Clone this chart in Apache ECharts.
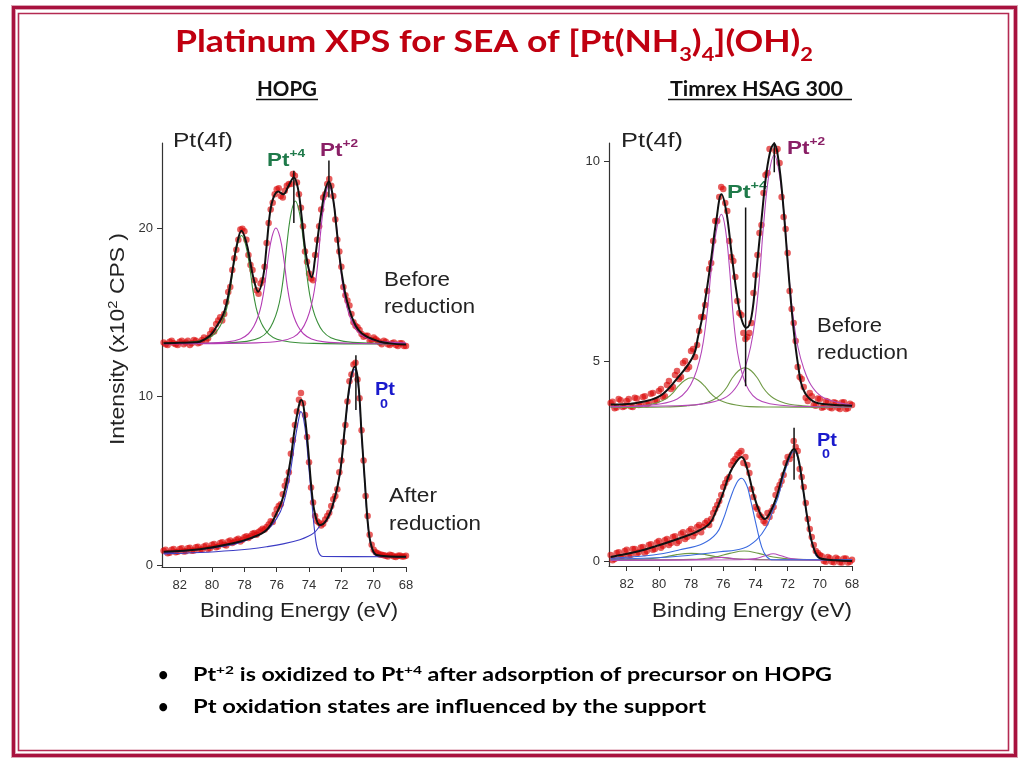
<!DOCTYPE html>
<html><head><meta charset="utf-8">
<script src="https://cdn.jsdelivr.net/npm/echarts@6/dist/echarts.min.js"></script>
<style>html,body{margin:0;padding:0;background:#fff}#c{width:1021px;height:759px}</style>
</head><body><div id="c"></div>
<script>
// ---------- DATA ----------
const E_GRID = [83,82.75,82.5,82.25,82,81.75,81.5,81.25,81,80.75,80.5,80.25,80,79.75,79.5,79.25,79,78.75,78.5,78.25,78,77.75,77.5,77.25,77,76.75,76.5,76.25,76,75.75,75.5,75.25,75,74.75,74.5,74.25,74,73.75,73.5,73.25,73,72.75,72.5,72.25,72,71.75,71.5,71.25,71,70.75,70.5,70.25,70,69.75,69.5,69.25,69,68.75,68.5,68.25,68];
const E_GRID2 = [82.875,82.625,82.375,82.125,81.875,81.625,81.375,81.125,80.875,80.625,80.375,80.125,79.875,79.625,79.375,79.125,78.875,78.625,78.375,78.125,77.875,77.625,77.375,77.125,76.875,76.625,76.375,76.125,75.875,75.625,75.375,75.125,74.875,74.625,74.375,74.125,73.875,73.625,73.375,73.125,72.875,72.625,72.375,72.125,71.875,71.625,71.375,71.125,70.875,70.625,70.375,70.125,69.875,69.625,69.375,69.125,68.875,68.625,68.375,68.125];
const X_TICKS = [68,70,72,74,76,78,80,82];
const HOPG_Y_TICKS = [0,10,20];
const HSAG_Y_TICKS = [0,5,10];

const HOPG_BEFORE_DATA = [13.2,13.05,13.3,13.1,13.25,13.1,13.3,13.15,13.3,13.2,13.5,13.45,13.95,14.3,14.7,14.9,16.2,17.5,18.7,19.9,19.8,18.4,17.5,16.3,16.7,17.7,20.3,21.5,22.3,21.9,22.2,22.6,23.2,22.7,21.2,18.6,17.3,16.9,19.3,21.1,22.0,22.9,21.9,19.3,17.7,16.0,15.4,14.4,14.1,13.7,13.6,13.3,13.5,13.3,13.1,13.25,13.05,13.2,13.0,13.15,13.0];
const HOPG_BEFORE_DATA2 = [13.1,13.25,13.15,13.05,13.3,13.2,13.05,13.35,13.15,13.35,13.3,13.7,13.85,14.5,14.5,15.6,16.5,18.2,19.3,19.95,19.3,17.8,16.9,16.1,16.9,19.1,21.1,22.0,22.35,21.8,22.5,22.6,23.1,22.0,20.1,18.0,17.0,18.4,20.1,21.8,22.6,22.5,20.5,18.6,16.5,15.7,14.9,14.2,13.95,13.55,13.6,13.35,13.4,13.2,13.3,13.1,13.15,13.05,13.15,13.0];
const HOPG_AFTER_DATA = [0.85,0.7,0.9,0.75,0.95,0.8,1.0,0.85,1.05,0.9,1.1,0.95,1.2,1.05,1.3,1.2,1.4,1.3,1.5,1.4,1.65,1.6,1.85,1.8,2.05,2.1,2.4,2.55,3.3,3.6,4.7,5.5,7.4,9.1,10.2,8.9,6.1,3.7,2.6,2.35,2.7,3.1,3.9,4.5,6.2,8.3,10.9,11.9,11.0,8.0,4.1,1.8,0.9,0.7,0.6,0.55,0.6,0.5,0.55,0.5,0.55];
const HOPG_AFTER_DATA2 = [0.9,0.72,0.95,0.78,1.0,0.82,1.02,0.86,1.08,0.92,1.15,1.0,1.25,1.1,1.35,1.15,1.45,1.38,1.55,1.5,1.7,1.7,1.9,1.95,2.15,2.25,2.6,3.0,3.5,4.2,5.0,6.6,8.3,9.8,9.6,7.6,4.6,2.9,2.5,2.45,2.9,3.5,4.1,5.5,7.3,9.7,11.3,12.0,9.9,6.2,2.9,1.2,0.75,0.62,0.58,0.5,0.58,0.48,0.56,0.5];
const HSAG_BEFORE_DATA = [3.95,3.82,4.05,3.85,4.0,3.86,4.08,3.9,4.1,3.92,4.18,4.0,4.25,4.1,4.4,4.3,4.65,4.55,4.95,4.8,5.25,5.1,5.75,6.1,6.75,7.45,8.5,9.1,9.3,8.75,7.6,7.1,6.2,5.7,5.6,5.95,7.15,8.2,9.2,9.7,10.5,10.25,9.95,8.6,7.7,6.3,5.5,4.6,4.35,4.0,4.12,3.88,4.05,3.85,3.98,3.82,3.95,3.8,3.97,3.82,3.9];
const HSAG_BEFORE_DATA2 = [3.98,3.84,4.02,3.87,4.05,3.85,4.06,3.92,4.12,3.95,4.2,4.02,4.3,4.12,4.5,4.35,4.75,4.6,5.0,4.85,5.3,5.4,6.1,6.4,7.3,8.0,8.5,9.35,8.95,8.0,7.5,6.5,6.15,5.55,5.7,6.7,7.65,8.4,9.65,10.3,10.6,10.3,9.1,8.3,6.75,5.95,4.85,4.55,4.08,4.2,3.9,4.06,3.83,4.0,3.84,3.97,3.83,3.96,3.8,3.93];
const HSAG_AFTER_DATA = [0.15,0.05,0.22,0.1,0.28,0.15,0.3,0.22,0.35,0.25,0.42,0.3,0.5,0.38,0.55,0.45,0.62,0.5,0.72,0.6,0.8,0.7,0.9,0.85,1.0,1.05,1.3,1.5,1.85,2.05,2.4,2.55,2.7,2.45,2.4,1.8,1.35,1.15,1.0,1.2,1.25,1.65,1.9,2.15,2.6,2.65,2.85,2.3,1.85,1.05,0.6,0.25,0.15,0.0,0.1,-0.02,0.08,-0.03,0.06,-0.04,0.03];
const HSAG_AFTER_DATA2 = [0.02,0.2,0.08,0.25,0.12,0.3,0.18,0.34,0.2,0.4,0.28,0.46,0.33,0.52,0.4,0.6,0.45,0.68,0.55,0.75,0.62,0.85,0.72,0.95,0.9,1.2,1.4,1.65,1.95,2.1,2.5,2.65,2.75,2.6,2.2,1.6,1.3,1.1,0.95,1.1,1.35,1.8,2.0,2.45,2.55,3.0,2.75,2.1,1.45,0.8,0.4,0.2,0.12,-0.02,0.07,-0.03,0.05,-0.04,0.06,-0.02];

const HOPG_BEFORE_FIT = [[83,13.15],[82,13.18],[81,13.22],[80.76,13.25],[80.14,13.6],[79.73,14.14],[79.32,14.84],[79.1,15.53],[78.9,16.52],[78.7,17.7],[78.49,18.89],[78.18,19.84],[77.87,19.09],[77.66,18.1],[77.46,17.11],[77.15,16.22],[76.84,17.11],[76.63,18.89],[76.42,20.87],[76.22,21.76],[75.91,22.16],[75.6,22.0],[75.29,22.45],[74.94,23.0],[74.67,22.26],[74.46,20.67],[74.26,18.89],[74.05,17.7],[73.84,17.07],[73.64,18.1],[73.43,19.68],[73.22,21.07],[73.02,22.16],[72.77,22.75],[72.5,21.66],[72.29,19.88],[72.09,18.1],[71.88,16.72],[71.67,15.73],[71.36,14.74],[70.95,13.95],[70.43,13.55],[69.6,13.25],[69,13.15],[68,13.08]];
const HOPG_PT4_A = [[83,13.15],[82.68,13.15],[81.18,13.23],[80.38,13.39],[79.88,13.68],[79.53,14.13],[79.28,14.65],[79.08,15.29],[78.88,16.33],[78.68,17.74],[78.43,19.03],[78.18,19.55],[77.93,19.03],[77.68,17.74],[77.48,16.33],[77.28,15.29],[77.08,14.65],[76.83,14.13],[76.48,13.68],[75.98,13.39],[75.18,13.23],[73.68,13.15],[68,13.11]];
const HOPG_PT2_A = [[83,13.13],[80.55,13.16],[79.05,13.24],[78.25,13.41],[77.75,13.72],[77.4,14.2],[77.15,14.76],[76.95,15.45],[76.75,16.55],[76.55,18.07],[76.3,19.45],[76.05,20.0],[75.8,19.45],[75.55,18.07],[75.35,16.55],[75.15,15.45],[74.95,14.76],[74.7,14.2],[74.35,13.72],[73.85,13.41],[73.05,13.24],[71.55,13.16],[68,13.12]];
const HOPG_PT4_B = [[83,13.14],[79.35,13.17],[77.85,13.27],[77.05,13.48],[76.55,13.87],[76.2,14.46],[75.95,15.14],[75.75,15.99],[75.55,17.35],[75.35,19.22],[75.1,20.92],[74.85,21.6],[74.6,20.92],[74.35,19.22],[74.15,17.35],[73.95,15.99],[73.75,15.14],[73.5,14.46],[73.15,13.87],[72.65,13.48],[71.85,13.27],[70.35,13.17],[68,13.12]];
const HOPG_PT2_B = [[83,13.13],[77.27,13.18],[75.77,13.29],[74.97,13.52],[74.47,13.95],[74.12,14.6],[73.87,15.36],[73.67,16.3],[73.47,17.8],[73.27,19.87],[73.02,21.75],[72.77,22.5],[72.52,21.75],[72.27,19.87],[72.07,17.8],[71.87,16.3],[71.67,15.36],[71.42,14.6],[71.07,13.95],[70.57,13.52],[69.77,13.29],[68.27,13.18],[68,13.17]];

const HOPG_AFTER_FIT = [[83,0.79],[80.76,0.93],[78.7,1.29],[77.66,1.58],[76.63,2.08],[76.01,3.07],[75.6,4.05],[75.18,6.03],[74.87,8.2],[74.57,9.69],[74.46,9.79],[74.26,8.8],[74.05,6.82],[73.84,4.45],[73.64,3.07],[73.33,2.37],[72.92,2.67],[72.5,3.66],[72.09,5.44],[71.78,8.2],[71.47,10.78],[71.16,11.77],[70.95,10.78],[70.75,7.81],[70.54,4.85],[70.34,2.27],[70.13,1.09],[69.82,0.59],[69,0.51],[68,0.49]];
const HOPG_PT0_A = [[83,0.72],[80.76,0.92],[78.7,1.22],[77.66,1.55],[76.63,2.05],[76.01,2.75],[75.6,3.6],[75.18,5.4],[74.87,7.4],[74.57,9.0],[74.5,9.1],[74.26,8.2],[74.05,6.2],[73.84,3.9],[73.64,1.9],[73.43,0.8],[73.12,0.5],[68,0.49]];
const HOPG_PT0_B = [[83,0.66],[80.76,0.74],[78.7,0.86],[77.66,0.95],[76.63,1.08],[75.6,1.25],[74.57,1.5],[74.05,1.7],[73.64,1.95],[73.33,2.3],[72.92,2.62],[72.5,3.6],[72.09,5.4],[71.78,8.1],[71.47,10.6],[71.16,11.6],[70.95,10.6],[70.75,7.7],[70.54,4.8],[70.34,2.2],[70.13,1.05],[69.82,0.56],[68,0.49]];

const HSAG_BEFORE_FIT = [[83,3.91],[81.4,3.95],[79.95,4.12],[78.91,4.54],[77.87,5.12],[77.56,5.62],[77.25,6.21],[76.84,7.29],[76.42,8.55],[76.11,9.17],[75.8,8.71],[75.49,7.71],[75.17,6.71],[74.86,6.04],[74.55,5.83],[74.24,6.12],[73.93,7.29],[73.62,8.55],[73.31,9.72],[73.04,10.3],[72.83,10.43],[72.58,10.05],[72.27,8.88],[71.96,7.29],[71.65,5.87],[71.34,4.87],[71.03,4.29],[70.41,3.99],[69.37,3.91],[68,3.88]];
const HSAG_PT2_A = [[83,3.86],[81.7,3.87],[79.86,3.93],[78.86,4.05],[78.24,4.27],[77.8,4.6],[77.49,4.99],[77.24,5.48],[76.99,6.25],[76.74,7.31],[76.42,8.28],[76.11,8.67],[75.86,8.28],[75.61,7.31],[75.41,6.25],[75.21,5.48],[75.01,4.99],[74.76,4.6],[74.41,4.27],[73.91,4.05],[73.11,3.93],[71.61,3.87],[68,3.85]];
const HSAG_PT2_B = [[83,3.86],[78.83,3.88],[76.83,3.96],[75.78,4.11],[75.11,4.4],[74.64,4.84],[74.3,5.35],[74.04,5.98],[73.77,6.99],[73.5,8.38],[73.17,9.64],[72.83,10.15],[72.5,9.64],[72.16,8.38],[71.89,6.99],[71.62,5.98],[71.36,5.35],[71.02,4.84],[70.55,4.4],[69.88,4.11],[68.83,3.96],[68,3.9]];
const HSAG_PT4_A = [[83,3.85],[81.56,3.86],[80.74,3.9],[80.17,3.95],[79.76,4.01],[79.44,4.09],[79.11,4.21],[78.79,4.37],[78.38,4.52],[77.97,4.58],[77.56,4.52],[77.15,4.37],[76.83,4.21],[76.5,4.09],[76.18,4.01],[75.77,3.95],[75.2,3.9],[74.38,3.86],[73.07,3.85],[68,3.84]];
const HSAG_PT4_B = [[83,3.84],[79.56,3.85],[78.25,3.88],[77.43,3.92],[76.86,3.99],[76.45,4.07],[76.13,4.17],[75.8,4.33],[75.48,4.55],[75.07,4.75],[74.66,4.83],[74.25,4.75],[73.84,4.55],[73.52,4.33],[73.19,4.17],[72.87,4.07],[72.46,3.99],[71.89,3.92],[71.07,3.88],[69.76,3.85],[68,3.84]];

const HSAG_AFTER_FIT = [[83,0.1],[81.4,0.23],[79.95,0.4],[78.7,0.57],[77.66,0.73],[76.84,0.94],[76.42,1.28],[76.01,1.7],[75.59,2.2],[75.17,2.49],[74.86,2.6],[74.55,2.36],[74.14,1.7],[73.72,1.2],[73.41,1.05],[73.1,1.2],[72.68,1.61],[72.27,2.2],[71.86,2.66],[71.61,2.8],[71.34,2.57],[71.03,1.78],[70.72,0.94],[70.41,0.36],[69.99,0.07],[69,0.02],[68,0.0]];
const HSAG_PT0_A = [[83,0.07],[80.36,0.15],[78.7,0.28],[77.25,0.44],[76.42,0.69],[76.01,1.03],[75.59,1.53],[75.17,1.95],[74.86,2.07],[74.55,1.9],[74.35,1.61],[73.93,0.86],[73.62,0.36],[73.31,0.11],[72.9,0.03],[68,0.03]];
const HSAG_PT0_B = [[83,0.05],[79.33,0.1],[76.21,0.23],[74.76,0.32],[73.93,0.53],[73.31,0.86],[72.9,1.28],[72.58,1.61],[72.27,2.1],[71.86,2.6],[71.61,2.75],[71.34,2.53],[71.03,1.76],[70.72,0.93],[70.41,0.35],[69.99,0.06],[68,0.02]];
const HSAG_SM_PT4_A = [[83,0.03],[80.5,0.06],[79.5,0.11],[78.9,0.16],[78.0,0.19],[77.1,0.16],[76.5,0.11],[75.5,0.06],[73,0.03],[68,0.02]];
const HSAG_SM_PT4_B = [[83,0.02],[78,0.04],[76.5,0.1],[75.6,0.19],[74.7,0.25],[73.8,0.19],[72.9,0.1],[71.5,0.04],[68,0.02]];
const HSAG_SM_PT2_A = [[83,0.02],[78,0.03],[77,0.05],[76.5,0.08],[76.1,0.09],[75.7,0.08],[75.2,0.05],[74,0.03],[68,0.02]];
const HSAG_SM_PT2_B = [[83,0.02],[75,0.03],[74,0.06],[73.4,0.13],[72.9,0.18],[72.4,0.13],[71.8,0.06],[70.5,0.03],[68,0.02]];

const HOPG_MARKS = [[[74.94,20.3],[74.94,23.4]],[[72.77,21.8],[72.77,24.0]],[[71.1,9.2],[71.1,12.45]]];
const HSAG_MARKS = [[[72.83,9.72],[72.83,10.68]],[[74.61,4.37],[74.61,8.84]],[[71.6,2.03],[71.6,3.33]]];

// ---------- TEXT HELPERS ----------
const CTX = document.createElement('canvas').getContext('2d');
const SANS = '"Liberation Sans", Arial, sans-serif';
const LATO = 'Lato, "Open Sans", sans-serif';
function fnt(s){ return (s.w||'normal')+' '+s.size+'px '+(s.fam||SANS); }
function measure(t,f){ CTX.font=f; CTX.textBaseline='alphabetic'; return CTX.measureText(t).width; }
function midOff(f){ CTX.font=f; CTX.textBaseline='alphabetic'; const a=CTX.measureText('H').actualBoundingBoxAscent; CTX.textBaseline='middle'; const b=CTX.measureText('H').actualBoundingBoxAscent; CTX.textBaseline='alphabetic'; return a-b; }
function textLine(segs,opt){
  const ws=segs.map(s=>measure(s.t,fnt(s)));
  const tot=ws.reduce((a,b)=>a+b,0);
  const sc=opt.width?opt.width/tot:1;
  let cx=0; const ch=[];
  segs.forEach((s,i)=>{ const f=fnt(s);
    ch.push({type:'text',x:cx,y:(s.dy||0)-midOff(f),scaleX:sc,silent:true,
      style:{text:s.t,font:f,fill:s.c||opt.c||'#222',align:'left',verticalAlign:'middle',textAlign:'left',textVerticalAlign:'middle'}});
    cx+=ws[i]*sc; });
  return {type:'group',x:opt.x,y:opt.y,rotation:opt.rot||0,children:ch,silent:true};
}

const TITLE_RED='#c00010';
const G_L='#3a8f3a', M_L='#b43cb4', B_L='#3b3bc4';
const G_R='#6f9a45', M_R='#b448b8', B_R='#3a6ae0';
const LBL_G='#1f7a4a', LBL_M='#8a1f66', LBL_B='#1a1acc';

const graphics=[
  {type:'rect',shape:{x:13.5,y:7.5,width:1002,height:748},style:{fill:'none',stroke:'#dca4b4',lineWidth:5},silent:true},
  {type:'rect',shape:{x:13.5,y:7.5,width:1002,height:748},style:{fill:'none',stroke:'#a8123e',lineWidth:3},silent:true},
  {type:'rect',shape:{x:18.5,y:13.5,width:990,height:737},style:{fill:'none',stroke:'#b42a52',lineWidth:1.6},silent:true},
  textLine([{t:'Platinum XPS for SEA of [Pt(NH',size:31,w:'bold',fam:LATO},{t:'3',size:19,w:'bold',fam:LATO,dy:9},{t:')',size:31,w:'bold',fam:LATO},{t:'4',size:19,w:'bold',fam:LATO,dy:9},{t:'](OH)',size:31,w:'bold',fam:LATO},{t:'2',size:19,w:'bold',fam:LATO,dy:9}],{x:175,y:52,width:638,c:TITLE_RED}),
  textLine([{t:'HOPG',size:21,w:'bold',fam:LATO}],{x:257,y:96,width:60,c:'#111'}),
  {type:'line',shape:{x1:256,y1:99.5,x2:318,y2:99.5},style:{stroke:'#111',lineWidth:1.5},silent:true},
  textLine([{t:'Timrex HSAG 300',size:21,w:'bold',fam:LATO}],{x:670,y:96,width:173,c:'#111'}),
  {type:'line',shape:{x1:668,y1:99.5,x2:852,y2:99.5},style:{stroke:'#111',lineWidth:1.5},silent:true},
  textLine([{t:'•',size:18,w:'bold',fam:LATO}],{x:158,y:681,c:'#000'}),
  textLine([{t:'•',size:18,w:'bold',fam:LATO}],{x:158,y:713,c:'#000'}),
  textLine([{t:'Pt',size:18,w:'bold',fam:LATO},{t:'+2',size:12,w:'bold',fam:LATO,dy:-7},{t:' is oxidized to Pt',size:18,w:'bold',fam:LATO},{t:'+4',size:12,w:'bold',fam:LATO,dy:-7},{t:' after adsorption of precursor on HOPG',size:18,w:'bold',fam:LATO}],{x:193,y:681,width:639,c:'#000'}),
  textLine([{t:'Pt oxidation states are influenced by the support',size:18,w:'bold',fam:LATO}],{x:193,y:713,width:513,c:'#000'}),
  textLine([{t:'Pt(4f)',size:20}],{x:173,y:147,width:60}),
  textLine([{t:'Pt(4f)',size:20}],{x:621,y:147,width:62}),
  textLine([{t:'Pt',size:18,w:'bold'},{t:'+4',size:11,w:'bold',dy:-9}],{x:267,y:166,width:38,c:LBL_G}),
  textLine([{t:'Pt',size:18,w:'bold'},{t:'+2',size:11,w:'bold',dy:-9}],{x:320,y:156,width:38,c:LBL_M}),
  textLine([{t:'Pt',size:18,w:'bold'},{t:'+4',size:11,w:'bold',dy:-9}],{x:727,y:198,width:40,c:LBL_G}),
  textLine([{t:'Pt',size:18,w:'bold'},{t:'+2',size:11,w:'bold',dy:-9}],{x:787,y:154,width:38,c:LBL_M}),
  textLine([{t:'Before',size:21}],{x:384,y:286,width:66}),
  textLine([{t:'reduction',size:21}],{x:384,y:313,width:91}),
  textLine([{t:'Before',size:21}],{x:817,y:332,width:65}),
  textLine([{t:'reduction',size:21}],{x:817,y:359,width:91}),
  textLine([{t:'After',size:21}],{x:389,y:502,width:48}),
  textLine([{t:'reduction',size:21}],{x:389,y:530,width:92}),
  textLine([{t:'Pt',size:18,w:'bold'}],{x:375,y:395,width:20,c:LBL_B}),
  textLine([{t:'0',size:12,w:'bold'}],{x:380,y:408,width:8,c:LBL_B}),
  textLine([{t:'Pt',size:18,w:'bold'}],{x:817,y:446,width:20,c:LBL_B}),
  textLine([{t:'0',size:12,w:'bold'}],{x:822,y:458,width:8,c:LBL_B}),
  textLine([{t:'Intensity (x10',size:20},{t:'2',size:13,dy:-7},{t:' CPS )',size:20}],{x:124,y:445,width:212,rot:Math.PI/2}),
  textLine([{t:'Binding Energy (eV)',size:21}],{x:200,y:617,width:198}),
  textLine([{t:'Binding Energy (eV)',size:21}],{x:652,y:617,width:200})
];

// ---------- SERIES ----------
function ln(ai,data,color,width,z,smooth){ return {type:'line',xAxisIndex:ai,yAxisIndex:ai,data:data,symbol:'none',showSymbol:false,smooth:smooth===undefined?0.4:smooth,lineStyle:{color:color,width:width},z:z,silent:true,animation:false}; }
function pts(ai,arr,arr2){ return {type:'scatter',xAxisIndex:ai,yAxisIndex:ai,data:E_GRID.map((e,i)=>[e,arr[i]]).concat(E_GRID2.map((e,i)=>[e,arr2[i]])),symbol:'circle',symbolSize:6.5,itemStyle:{color:'rgba(218,8,8,0.82)'},z:2,silent:true,animation:false,large:false}; }

const series=[
  pts(0,HOPG_BEFORE_DATA,HOPG_BEFORE_DATA2), pts(0,HOPG_AFTER_DATA,HOPG_AFTER_DATA2),
  ln(0,HOPG_PT4_A,G_L,1.1,3), ln(0,HOPG_PT4_B,G_L,1.1,3), ln(0,HOPG_PT2_A,M_L,1.1,3), ln(0,HOPG_PT2_B,M_L,1.1,3),
  ln(0,HOPG_PT0_A,B_L,1.1,3), ln(0,HOPG_PT0_B,B_L,1.1,3),
  ln(0,HOPG_BEFORE_FIT,'#111',2,4), ln(0,HOPG_AFTER_FIT,'#111',2,4),
  pts(1,HSAG_BEFORE_DATA,HSAG_BEFORE_DATA2), pts(1,HSAG_AFTER_DATA,HSAG_AFTER_DATA2),
  ln(1,HSAG_PT4_A,G_R,1.1,3), ln(1,HSAG_PT4_B,G_R,1.1,3), ln(1,HSAG_PT2_A,M_R,1.1,3), ln(1,HSAG_PT2_B,M_R,1.1,3),
  ln(1,HSAG_SM_PT4_A,G_R,1.1,3), ln(1,HSAG_SM_PT4_B,G_R,1.1,3), ln(1,HSAG_SM_PT2_A,M_R,1.1,3), ln(1,HSAG_SM_PT2_B,M_R,1.1,3),
  ln(1,HSAG_PT0_A,B_R,1.1,3), ln(1,HSAG_PT0_B,B_R,1.1,3),
  ln(1,HSAG_BEFORE_FIT,'#111',2,4), ln(1,HSAG_AFTER_FIT,'#111',2,4)
];
HOPG_MARKS.forEach(m=>series.push(ln(0,m,'#111',1.5,5,false)));
HSAG_MARKS.forEach(m=>series.push(ln(1,m,'#111',1.5,5,false)));

function xAx(gi){ return {type:'value',gridIndex:gi,inverse:true,min:68,max:83.1,
  axisLine:{show:true,onZero:false,lineStyle:{color:'#333',width:1.2}},
  axisTick:{show:true,length:5,customValues:X_TICKS,lineStyle:{color:'#333'}},
  axisLabel:{show:true,customValues:X_TICKS,margin:12,fontSize:13,color:'#333',fontFamily:SANS},
  splitLine:{show:false}}; }
function yAx(gi,min,max,ticks){ return {type:'value',gridIndex:gi,min:min,max:max,
  axisLine:{show:true,onZero:false,lineStyle:{color:'#333',width:1.2}},
  axisTick:{show:true,length:5,customValues:ticks,lineStyle:{color:'#333'}},
  axisLabel:{show:true,customValues:ticks,margin:9,fontSize:13,color:'#333',fontFamily:SANS},
  splitLine:{show:false}}; }

const chart=echarts.init(document.getElementById('c'),null,{renderer:'canvas'});
chart.setOption({
  animation:false,
  backgroundColor:'#fff',
  textStyle:{fontFamily:SANS},
  grid:[
    {left:162,width:244,top:143,height:424,containLabel:false,outerBoundsMode:'none'},
    {left:609,width:243,top:143,height:423,containLabel:false,outerBoundsMode:'none'}
  ],
  xAxis:[xAx(0),xAx(1)],
  yAxis:[yAx(0,-0.12,25.04,HOPG_Y_TICKS),yAx(1,-0.125,10.45,HSAG_Y_TICKS)],
  series:series,
  graphic:{elements:graphics}
});
</script></body></html>
